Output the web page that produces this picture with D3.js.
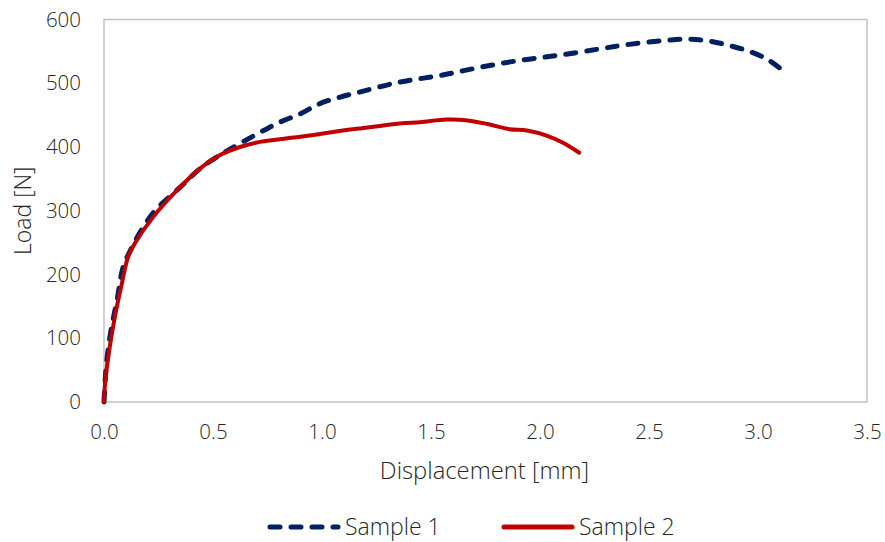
<!DOCTYPE html>
<html>
<head>
<meta charset="utf-8">
<script src="https://cdn.jsdelivr.net/npm/d3@7"></script>
<style>
  html, body { margin: 0; padding: 0; background: #fff; }
  svg { display: block; font-family: "Open Sans", "Noto Sans", sans-serif; }
</style>
</head>
<body>
<svg id="chart" width="885" height="542"></svg>
<script>
// Load–displacement readings for the two samples
const sample1Disp = [0, 0.01, 0.03, 0.06, 0.088, 0.12, 0.16, 0.234, 0.35, 0.44, 0.53, 0.58, 0.716, 0.807, 0.9, 0.99, 1.08, 1.17, 1.358, 1.54, 1.725, 1.91, 2.09, 2.275, 2.41, 2.6, 2.69, 2.78, 2.87, 2.96, 3.04, 3.115];
const sample1Load = [0, 55, 108, 160, 212, 237, 263, 300, 337, 366, 387, 397, 423, 439, 452, 468, 478, 486, 502, 512, 525, 536, 544, 554, 561, 568, 569, 566, 559, 550, 538, 520];

const sample2Disp = [0, 0.005, 0.024, 0.05, 0.082, 0.11, 0.142, 0.225, 0.349, 0.44, 0.53, 0.624, 0.716, 0.9, 1.08, 1.17, 1.358, 1.45, 1.57, 1.66, 1.76, 1.86, 1.94, 2.03, 2.11, 2.18];
const sample2Load = [0, 30, 81, 134, 186, 227, 249, 290, 337, 366, 387, 400, 408, 416, 425, 429, 437, 439, 443, 442, 436, 428, 426, 418, 406, 391];

const xTicks = [0, 0.5, 1.0, 1.5, 2.0, 2.5, 3.0, 3.5];
const yTicks = [0, 100, 200, 300, 400, 500, 600];

const seriesNames = ["Sample 1", "Sample 2"];
const seriesColors = ["#002060", "#C00000"];

const svg = d3.select("#chart");
const margin = { left: 104, top: 19.5, right: 18, bottom: 140 };
const width = 885 - margin.left - margin.right;
const height = 542 - margin.top - margin.bottom;

const x = d3.scaleLinear().domain([0, 3.5]).range([margin.left, margin.left + width]);
const y = d3.scaleLinear().domain([0, 600]).range([margin.top + height, margin.top]);

const textColor = "#262626";
const fontW = 300;

// plot frame
svg.append("rect")
  .attr("x", x(0)).attr("y", y(600))
  .attr("width", x(3.5) - x(0)).attr("height", y(0) - y(600))
  .attr("fill", "none").attr("stroke", "#c3c3c3").attr("stroke-width", 1.5);

// axes
const xAxis = svg.append("g")
  .attr("transform", `translate(0,${y(0)})`)
  .call(d3.axisBottom(x).tickValues(xTicks).tickFormat(d3.format(".1f")).tickSize(0).tickPadding(22));
const yAxis = svg.append("g")
  .attr("transform", `translate(${x(0)},0)`)
  .call(d3.axisLeft(y).tickValues(yTicks).tickSize(0).tickPadding(23));
[xAxis, yAxis].forEach(g => {
  g.select(".domain").remove();
  g.selectAll("text")
    .attr("fill", textColor)
    .style("font-size", "20.5px")
    .style("font-weight", fontW)
    .style("font-family", '"Open Sans", sans-serif');
});

// axis titles
svg.append("text")
  .attr("x", x(1.75) - 1).attr("y", 479)
  .attr("text-anchor", "middle").attr("fill", textColor)
  .style("font-size", "23.8px").style("font-weight", fontW)
  .text("Displacement [mm]");
svg.append("text")
  .attr("transform", `translate(31,${y(300)}) rotate(-90)`)
  .attr("text-anchor", "middle").attr("fill", textColor)
  .style("font-size", "23px").style("font-weight", fontW)
  .text("Load [N]");

// series lines
const line = d3.line().x(d => x(d[0])).y(d => y(d[1])).curve(d3.curveCatmullRom.alpha(0.5));
const s1 = sample1Disp.map((d, i) => [d, sample1Load[i]]);
const s2 = sample2Disp.map((d, i) => [d, sample2Load[i]]);

svg.append("path")
  .datum(s1)
  .attr("d", line)
  .attr("fill", "none")
  .attr("stroke", seriesColors[0])
  .attr("stroke-width", 5)
  .attr("stroke-linecap", "round")
  .attr("stroke-dasharray", "10,11");

svg.append("path")
  .datum(s2)
  .attr("d", line)
  .attr("fill", "none")
  .attr("stroke", seriesColors[1])
  .attr("stroke-width", 4)
  .attr("stroke-linejoin", "round")
  .attr("stroke-linecap", "round");

// legend
const legend = svg.append("g").attr("transform", "translate(0,527)");
const legendItems = [
  { x0: 270, x1: 338, dash: "10,11", w: 5, cap: "round" },
  { x0: 504, x1: 572, dash: null, w: 5, cap: "round" }
];
legendItems.forEach((it, i) => {
  legend.append("line")
    .attr("x1", it.x0).attr("x2", it.x1).attr("y1", 0).attr("y2", 0)
    .attr("stroke", seriesColors[i]).attr("stroke-width", it.w)
    .attr("stroke-linecap", it.cap)
    .attr("stroke-dasharray", it.dash);
  legend.append("text")
    .attr("x", it.x1 + 7).attr("y", 0).attr("dy", "0.35em")
    .attr("fill", textColor)
    .style("font-size", "23px").style("font-weight", fontW)
    .text(seriesNames[i]);
});
</script>
</body>
</html>
